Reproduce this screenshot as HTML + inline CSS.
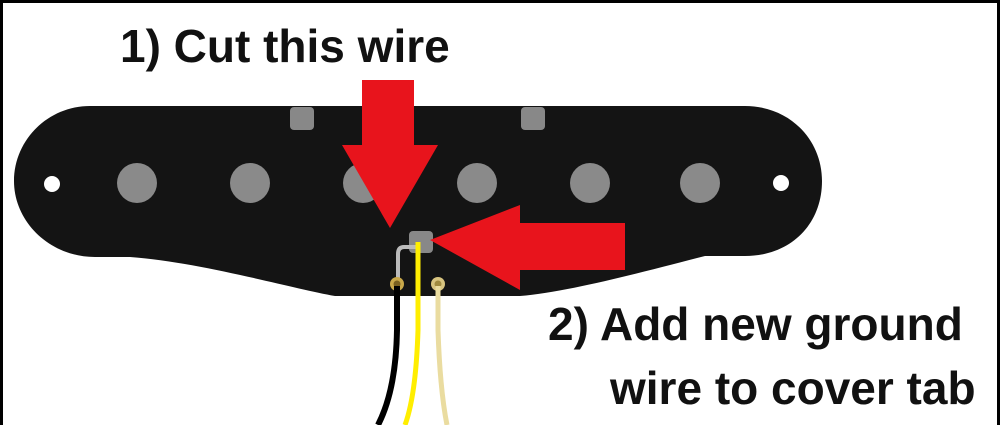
<!DOCTYPE html>
<html><head><style>
html,body{margin:0;padding:0;background:#fff;}
.w{position:relative;width:1000px;height:425px;overflow:hidden;box-sizing:border-box;border:3px solid #000;border-bottom:none;}
.t{position:absolute;font-family:"Liberation Sans",sans-serif;font-weight:bold;color:#111;font-size:46px;white-space:nowrap;}
</style></head><body>
<div class="w">
<svg width="1000" height="425" style="position:absolute;left:-3px;top:-3px">
<path d="M90,106 L745,106 C790,106 822,140 822,181 C822,225 790,256 745,256 L705,256 C650,270 570,292 520,296 L335,296 C290,288 200,262 130,257 L95,257 C50,257 14,222 14,181 C14,140 48,106 90,106 Z" fill="#141414"/>
<rect x="290" y="107" width="24" height="23" rx="4" fill="#888"/>
<rect x="521" y="107" width="24" height="23" rx="4" fill="#888"/>
<g fill="#8a8a8a">
<circle cx="137" cy="183" r="20"/><circle cx="250" cy="183" r="20"/><circle cx="363" cy="183" r="20"/>
<circle cx="477" cy="183" r="20"/><circle cx="590" cy="183" r="20"/><circle cx="700" cy="183" r="20"/>
</g>
<circle cx="52" cy="184" r="8" fill="#fff"/>
<circle cx="781" cy="183" r="8" fill="#fff"/>
<rect x="409" y="231" width="24" height="22" rx="4" fill="#888"/>
<path d="M420,247 L404,247 Q398,247 398,254 L398,282" stroke="#bbb" stroke-width="4" fill="none"/>
<circle cx="397" cy="284" r="7" fill="#c9a84a"/><circle cx="397" cy="284" r="3.5" fill="#7a6020"/>
<circle cx="438" cy="284" r="7" fill="#d8c480"/><circle cx="438" cy="284" r="3.5" fill="#a08a40"/>
<path d="M397,286 L397,330 Q396,390 378,425" stroke="#000" stroke-width="6" fill="none"/>
<path d="M418,242 L418,330 Q416,395 405,425" stroke="#ffee00" stroke-width="5" fill="none"/>
<path d="M438,286 L438,330 Q440,390 447,425" stroke="#eadca0" stroke-width="5" fill="none"/>
<path d="M362,80 L414,80 L414,145 L438,145 L390,228 L342,145 L362,145 Z" fill="#e8141c"/>
<path d="M625,223 L625,270 L520,270 L520,290 L430,240 L520,205 L520,223 Z" fill="#e8141c"/>
</svg>
<div class="t" style="left:117px;top:16px">1) Cut this wire</div>
<div class="t" style="left:545px;top:294px">2) Add new ground</div>
<div class="t" style="left:607px;top:358px">wire to cover tab</div>
</div>
</body></html>
